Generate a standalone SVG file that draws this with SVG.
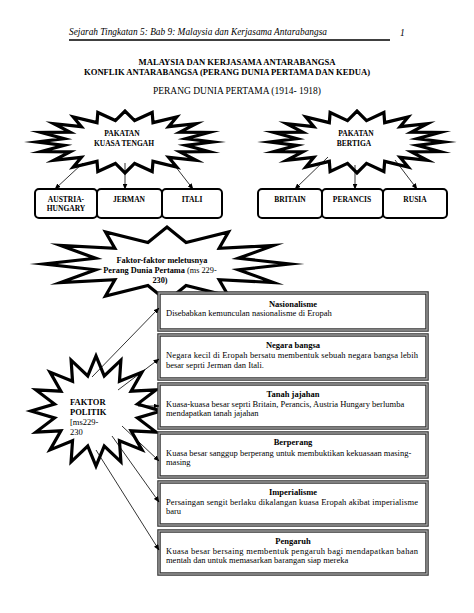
<svg xmlns="http://www.w3.org/2000/svg" width="474" height="613" viewBox="0 0 474 613">
<style>
text{font-family:"Liberation Serif","Times New Roman",serif;fill:#000}
.hdr{font-size:9.5px;font-style:italic}
.ttl{font-size:8.5px;font-weight:bold}
.sub{font-size:9.5px}
.b{font-weight:bold;font-size:7.5px}
.st{font-weight:bold;font-size:7.5px}
.ft{font-weight:bold;font-size:8.3px}
.bt{font-weight:bold;font-size:8.5px}
.bd{font-size:8.5px}
.pol{font-weight:bold;font-size:8.5px}
.star{fill:#fff;stroke:#000;stroke-width:3.2;stroke-linejoin:miter;stroke-miterlimit:10}
.rbox{fill:#fff;stroke:#000;stroke-width:2}
.fo{fill:#fff;stroke:#333;stroke-width:3.5}
.fi{fill:none;stroke:#aaa;stroke-width:1.3}
.con line{stroke:#000;stroke-width:0.8;marker-end:url(#ah)}
</style>
<defs>
<marker id="ah" markerUnits="userSpaceOnUse" markerWidth="6" markerHeight="5" refX="5.5" refY="2.5" orient="auto">
<path d="M0,0 L6,2.5 L0,5 z" fill="#000"/>
</marker>
</defs>
<rect width="474" height="613" fill="#fff"/>

<g id="header">
<text class="hdr" x="69" y="35" textLength="258" lengthAdjust="spacingAndGlyphs">Sejarah Tingkatan 5: Bab 9: Malaysia dan Kerjasama Antarabangsa</text>
<line x1="69" y1="40" x2="390" y2="40" stroke="#000" stroke-width="1.5"/>
<text class="hdr" x="400" y="36" font-style="normal">1</text>
</g>
<g id="titles">
<text class="ttl" x="237" y="65" text-anchor="middle" textLength="197" lengthAdjust="spacingAndGlyphs">MALAYSIA DAN KERJASAMA ANTARABANGSA</text>
<text class="ttl" x="227" y="75" text-anchor="middle" textLength="286" lengthAdjust="spacingAndGlyphs">KONFLIK ANTARABANGSA (PERANG DUNIA PERTAMA DAN KEDUA)</text>
<text class="sub" x="237" y="94" text-anchor="middle" textLength="168" lengthAdjust="spacingAndGlyphs">PERANG DUNIA PERTAMA (1914- 1918)</text>
</g>

<g id="pakatan-kuasa-tengah">
<polygon class="star" vector-effect="non-scaling-stroke" transform="translate(125,142) scale(88,31)" points="1,0 .691,.109 .951,.309 .624,.318 .809,.588 .495,.495 .588,.809 .318,.624 .309,.951 .109,.691 0,1 -.109,.691 -.309,.951 -.318,.624 -.588,.809 -.495,.495 -.809,.588 -.624,.318 -.951,.309 -.691,.109 -1,0 -.691,-.109 -.951,-.309 -.624,-.318 -.809,-.588 -.495,-.495 -.588,-.809 -.318,-.624 -.309,-.951 -.109,-.691 0,-1 .109,-.691 .309,-.951 .318,-.624 .588,-.809 .495,-.495 .809,-.588 .624,-.318 .951,-.309 .691,-.109"/>
<text class="st" x="122" y="136" text-anchor="middle">PAKATAN</text>
<text class="st" x="124" y="146" text-anchor="middle">KUASA TENGAH</text>
</g>
<g id="pakatan-bertiga">
<polygon class="star" vector-effect="non-scaling-stroke" transform="translate(357,142) scale(87,31)" points="1,0 .691,.109 .951,.309 .624,.318 .809,.588 .495,.495 .588,.809 .318,.624 .309,.951 .109,.691 0,1 -.109,.691 -.309,.951 -.318,.624 -.588,.809 -.495,.495 -.809,.588 -.624,.318 -.951,.309 -.691,.109 -1,0 -.691,-.109 -.951,-.309 -.624,-.318 -.809,-.588 -.495,-.495 -.588,-.809 -.318,-.624 -.309,-.951 -.109,-.691 0,-1 .109,-.691 .309,-.951 .318,-.624 .588,-.809 .495,-.495 .809,-.588 .624,-.318 .951,-.309 .691,-.109"/>
<text class="st" x="356" y="136" text-anchor="middle">PAKATAN</text>
<text class="st" x="354" y="146" text-anchor="middle">BERTIGA</text>
</g>

<g id="austria-hungary"><rect class="rbox" x="35" y="189" width="62" height="29" rx="4"/><text class="b" x="66" y="202" text-anchor="middle">AUSTRIA-</text><text class="b" x="66" y="211" text-anchor="middle">HUNGARY</text></g>
<g id="jerman"><rect class="rbox" x="97" y="189" width="65" height="29" rx="4"/><text class="b" x="129" y="202" text-anchor="middle">JERMAN</text></g>
<g id="itali"><rect class="rbox" x="162" y="189" width="60" height="29" rx="4"/><text class="b" x="192" y="202" text-anchor="middle">ITALI</text></g>
<g id="britain"><rect class="rbox" x="258" y="189" width="64" height="29" rx="4"/><text class="b" x="290" y="202" text-anchor="middle">BRITAIN</text></g>
<g id="perancis"><rect class="rbox" x="322" y="189" width="61" height="29" rx="4"/><text class="b" x="352" y="202" text-anchor="middle">PERANCIS</text></g>
<g id="rusia"><rect class="rbox" x="383" y="189" width="64" height="29" rx="4"/><text class="b" x="415" y="202" text-anchor="middle">RUSIA</text></g>

<g id="faktor-meletus">
<polygon class="star" vector-effect="non-scaling-stroke" transform="translate(167,264) scale(123,37)" points="1,0 .580,.155 .866,.5 .424,.424 .5,.866 .155,.580 0,1 -.155,.580 -.5,.866 -.424,.424 -.866,.5 -.580,.155 -1,0 -.580,-.155 -.866,-.5 -.424,-.424 -.5,-.866 -.155,-.580 0,-1 .155,-.580 .5,-.866 .424,-.424 .866,-.5 .580,-.155"/>
<text class="ft" x="162" y="263" text-anchor="middle">Faktor-faktor meletusnya</text>
<text class="ft" x="160" y="273" text-anchor="middle">Perang Dunia Pertama <tspan font-weight="normal">(ms 229-</tspan></text>
<text class="ft" x="160" y="283" text-anchor="middle" font-weight="normal">230)</text>
</g>

<g id="faktor-politik">
<polygon class="star" vector-effect="non-scaling-stroke" transform="translate(96,411) scale(65,55)" points="1,0 .638,.127 .924,.383 .540,.361 .707,.707 .361,.540 .383,.924 .127,.638 0,1 -.127,.638 -.383,.924 -.361,.540 -.707,.707 -.540,.361 -.924,.383 -.638,.127 -1,0 -.638,-.127 -.924,-.383 -.540,-.361 -.707,-.707 -.361,-.540 -.383,-.924 -.127,-.638 0,-1 .127,-.638 .383,-.924 .361,-.540 .707,-.707 .540,-.361 .924,-.383 .638,-.127"/>
<text class="pol" x="70" y="405">FAKTOR</text>
<text class="pol" x="70" y="415">POLITIK</text>
<text class="bd" x="70" y="425">[ms229-</text>
<text class="bd" x="70" y="435">230</text>
</g>

<g id="nasionalisme"><rect class="fo" x="159" y="293" width="268" height="37"/><rect class="fi" x="159" y="293" width="268" height="37"/>
<text class="bt" x="293" y="307" text-anchor="middle">Nasionalisme</text>
<text class="bd" x="166" y="316">Disebabkan kemunculan nasionalisme di Eropah</text></g>
<g id="negara-bangsa"><rect class="fo" x="159" y="335" width="268" height="44"/><rect class="fi" x="159" y="335" width="268" height="44"/>
<text class="bt" x="293" y="348" text-anchor="middle">Negara bangsa</text>
<text class="bd" x="166" y="358" textLength="252" lengthAdjust="spacing">Negara kecil di Eropah bersatu membentuk sebuah negara bangsa lebih</text>
<text class="bd" x="166" y="368">besar seprti Jerman dan Itali.</text></g>
<g id="tanah-jajahan"><rect class="fo" x="159" y="384" width="268" height="44"/><rect class="fi" x="159" y="384" width="268" height="44"/>
<text class="bt" x="293" y="397" text-anchor="middle">Tanah jajahan</text>
<text class="bd" x="166" y="407">Kuasa-kuasa besar  seprti Britain, Perancis, Austria Hungary berlumba</text>
<text class="bd" x="166" y="416">mendapatkan tanah jajahan</text></g>
<g id="berperang"><rect class="fo" x="159" y="433" width="268" height="44"/><rect class="fi" x="159" y="433" width="268" height="44"/>
<text class="bt" x="293" y="445" text-anchor="middle">Berperang</text>
<text class="bd" x="166" y="456">Kuasa besar sanggup berperang untuk membuktikan kekuasaan masing-</text>
<text class="bd" x="166" y="465">masing</text></g>
<g id="imperialisme"><rect class="fo" x="159" y="482" width="268" height="43"/><rect class="fi" x="159" y="482" width="268" height="43"/>
<text class="bt" x="293" y="495" text-anchor="middle">Imperialisme</text>
<text class="bd" x="166" y="505" textLength="252" lengthAdjust="spacing">Persaingan sengit berlaku dikalangan kuasa Eropah akibat imperialisme</text>
<text class="bd" x="166" y="514">baru</text></g>
<g id="pengaruh"><rect class="fo" x="159" y="531" width="268" height="43"/><rect class="fi" x="159" y="531" width="268" height="43"/>
<text class="bt" x="293" y="544" text-anchor="middle">Pengaruh</text>
<text class="bd" x="166" y="554" textLength="252" lengthAdjust="spacing">Kuasa besar bersaing membentuk pengaruh bagi mendapatkan bahan</text>
<text class="bd" x="166" y="563">mentah dan untuk memasarkan barangan siap mereka</text></g>

<g id="connectors" class="con">
<line x1="83" y1="163" x2="55" y2="189"/>
<line x1="125" y1="163" x2="125" y2="189"/>
<line x1="168" y1="157" x2="193" y2="189"/>
<line x1="328" y1="157" x2="295" y2="189"/>
<line x1="355" y1="165" x2="355" y2="189"/>
<line x1="395" y1="160" x2="417" y2="189"/>
<line x1="92" y1="377" x2="159" y2="308"/>
<line x1="118" y1="390" x2="159" y2="359"/>
<line x1="138" y1="406" x2="159" y2="406"/>
<line x1="122" y1="426" x2="159" y2="461"/>
<line x1="112" y1="436" x2="159" y2="502"/>
<line x1="96" y1="450" x2="159" y2="550"/>
</g>
</svg>
